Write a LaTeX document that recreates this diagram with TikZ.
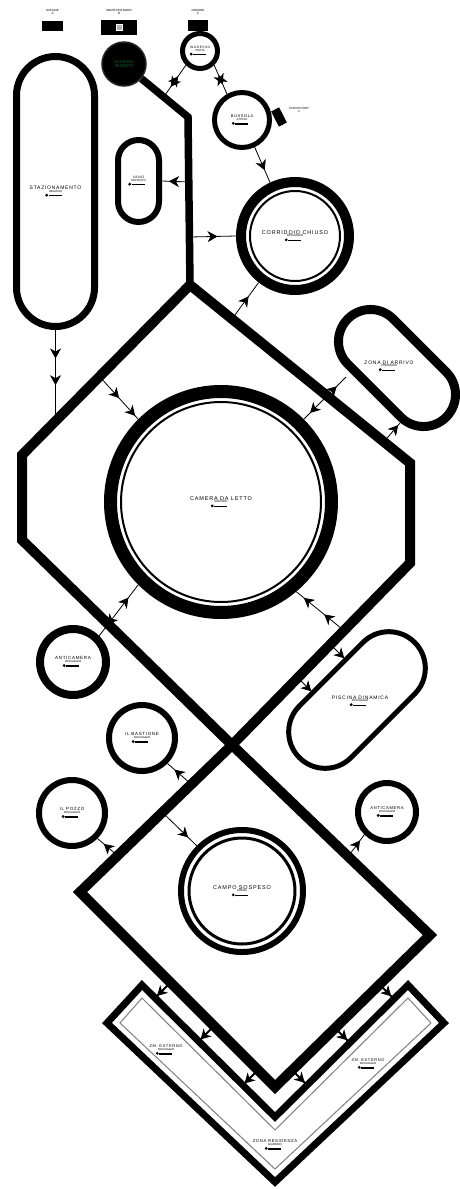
\documentclass[tikz,border=0pt]{standalone}
\usepackage{fontspec}
\setmainfont{Liberation Sans}
\newfontfamily\lbf[LetterSpace=15]{Liberation Sans}
\usetikzlibrary{arrows.meta,decorations.markings}
\definecolor{dkgreen}{RGB}{20,110,50}
\newcommand{\mrk}{\raisebox{0.2pt}{\rotatebox{45}{\rule{2.2pt}{2.2pt}}}\hspace{0.6pt}\rule[0.6pt]{13pt}{1.3pt}\hspace*{4pt}}
\newcommand{\lbl}[3][5.5]{{\lbf\fontsize{#1}{#1}\selectfont #2}\\[-0.3pt]{\fontsize{2.8}{2.8}\selectfont #3}\\[0.4pt]{\fontsize{3.5}{3.5}\selectfont\mrk}}
\tikzset{
  lab/.style={align=center,inner sep=0pt,font=\fontsize{3}{3}\selectfont},
  ring/.style={circle,draw,inner sep=0pt,align=center,font=\fontsize{3}{3}\selectfont},
  pill/.style={rectangle,draw,inner sep=0pt,align=center,font=\fontsize{3}{3}\selectfont},
  blk/.style={fill=black,inner sep=0pt},
  dia/.style={line width=10pt,line join=miter},
  conn/.style={line width=0.8pt},
  arr/.style={postaction={decorate,decoration={markings,mark=at position #1 with {\arrow{Stealth[length=10pt,width=11pt,inset=3pt]}}}}},
  rarr/.style={postaction={decorate,decoration={markings,mark=at position #1 with {\arrowreversed{Stealth[length=10pt,width=11pt,inset=3pt]}}}}},
  thinring/.style={line width=2pt},
}
\begin{document}
\begin{tikzpicture}[x=1pt,y=-1pt]
\useasboundingbox (0,0) rectangle (460,1189);
\fill[white] (0,0) rectangle (460,1189);

% ---- top markers
\node[lab] (o1l) at (52.5,12) {ORIGINE\\A};
\node[blk,minimum width=21,minimum height=10] (o1) at (52.5,25.5) {};
\node[lab] (o2l) at (119,12) {INGRESSO NORD\\B};
\node[blk,minimum width=36,minimum height=15] (o2) at (119,27.5) {};
\node[fill=gray!60,draw=white,line width=0.8pt,minimum size=6,inner sep=0pt] (o2i) at (119,27.5) {};
\node[lab] (o3l) at (198,12) {ORIGINE\\C};
\node[blk,minimum width=20,minimum height=11] (o3) at (198,25.5) {};

% ---- dark circle and spine
\node[circle,fill=black,draw=black!85,line width=1.5pt,minimum size=44,inner sep=0pt,text=dkgreen,font=\fontsize{4}{4.5}\selectfont,align=center] (dk) at (124,64) {ACCESSO\\SEGRETO};
\coordinate (t1) at (188,117);
\coordinate (d1t) at (190,285);
\draw[line width=7.5pt,line join=miter] (dk.-40) -- (t1) -- (d1t);

% ---- diamonds
\coordinate (d1r1) at (410,463);
\coordinate (d1r2) at (410,563);
\coordinate (x0) at (232,745);
\coordinate (d1l2) at (22,540);
\coordinate (d1l1) at (22,455);
\draw[dia] (d1t) -- (d1r1) -- (d1r2) -- (x0) -- (d1l2) -- (d1l1) -- cycle;
\coordinate (d2r) at (430,935);
\coordinate (d2b) at (275,1087);
\coordinate (d2l) at (80,892);
\draw[dia] (x0) -- (d2r) -- (d2b) -- (d2l) -- cycle;

% ---- top circles
\node[ring,line width=5pt,minimum size=35] (top) at (200,51) {\lbl[3.2]{INGRESSO}{PORTA}};
\node[ring,line width=5pt,minimum size=55] (bus) at (242,120) {\lbl[4]{BUSSOLA}{ATTESA}};
\node[blk,minimum width=9,minimum height=17,rotate=27] (bx) at (279,117) {};
\node[lab,anchor=west] (bxl) at (289,110) {CHECKPOINT\\2};

% ---- pills left
\node[pill,line width=7pt,minimum width=78,minimum height=270,rounded corners=39pt] (lp) at (55.5,191.5) {\lbl[5]{STAZIONAMENTO}{NEGOZIO}};
\node[pill,line width=6pt,minimum width=41,minimum height=82,rounded corners=20.5pt] (sp) at (138.5,181) {\lbl[3.5]{VANO}{DEPOSITO}};

% ---- corridor circle
\node[ring,line width=10pt,minimum size=108] (cam) at (295,236) {\lbl{CORRIDOIO CHIUSO}{PASSAGGIO}};
\draw[thinring] (cam.center) circle[radius=45];

% ---- main circle
\node[ring,line width=13pt,minimum size=221] (main) at (221,502) {\lbl{CAMERA DA LETTO}{SERVIZIO}};
\draw[thinring] (main.center) circle[radius=100];

% ---- zona pill
\node[pill,line width=9pt,minimum width=139,minimum height=64,rounded corners=32pt,rotate=-45] (zp) at (397,368) {};
\node[lab] (zpl) at (389,366) {\lbl[5]{ZONA DI ARRIVO}{CORRIDOIO}};

% ---- piscina pill
\node[pill,line width=5pt,minimum width=163,minimum height=73,rounded corners=36.5pt,rotate=45] (pi) at (357,700) {};
\node[lab] (pil) at (360,701) {\lbl[5]{PISCINA DINAMICA}{PASSAGGIO}};

% ---- small circles
\node[ring,line width=8pt,minimum size=66] (acl) at (73,662) {\lbl[4.5]{ANTICAMERA}{PASSAGGIO}};
\node[ring,line width=6pt,minimum size=66] (bst) at (142,738) {\lbl[4.5]{IL BASTIONE}{PASSAGGIO}};
\node[ring,line width=6pt,minimum size=66] (ilg) at (72,813) {\lbl[4.5]{IL POZZO}{PASSAGGIO}};
\node[ring,line width=6pt,minimum size=58] (acr) at (387,812) {\lbl[4.2]{ANTICAMERA}{PASSAGGIO}};

% ---- campo
\node[ring,line width=6pt,minimum size=122] (campo) at (242,891) {\lbl{CAMPO SOSPESO}{ARENA}};
\draw[line width=3pt] (campo.center) circle[radius=53];

% ---- chevron
\coordinate (cA) at (142,985);
\coordinate (cB) at (107,1023);
\coordinate (cC) at (275,1182);
\coordinate (cD) at (444,1023);
\coordinate (cE) at (408,985);
\coordinate (cF) at (275,1117);
\draw[line width=7pt,line join=miter] (cA) -- (cB) -- (cC) -- (cD) -- (cE) -- (cF) -- cycle;
\draw[gray,line width=1pt] (142,998) -- (120,1023) -- (275,1169) -- (431,1023) -- (408,998) -- (275,1130) -- cycle;
\node[lab] (chl) at (166,1050) {\lbl[4]{ZM. ESTERNO}{PASSAGGIO}};
\node[lab] (chr) at (368,1064) {\lbl[4]{ZM. ESTERNO}{PASSAGGIO}};
\node[lab] (chb) at (275,1145) {\lbl[4.2]{ZONA RESIDENZA}{GIARDINO}};

% ---- connectors
\coordinate (e1) at (55.5,419);
\draw[conn,arr=0.32,arr=0.62] (lp.south) -- (e1);
\coordinate (v1) at (190,182);
\draw[conn,arr=0.75] (v1) -- (sp.east);
\coordinate (v2) at (190,237);
\draw[conn,arr=0.6] (v2) -- (cam.west);
\draw[conn,arr=0.65] (bus.-65) -- (cam.115);
\coordinate (s1) at (163,98);
\draw[conn,arr=0.66,rarr=0.34] (top.225) -- (s1);
\draw[conn,arr=0.66,rarr=0.34] (top.-45) -- (bus.120);
\coordinate (e2) at (232,319);
\draw[conn,arr=0.62] (e2) -- (cam.232);
\coordinate (e3) at (100,377);
\draw[conn,arr=0.5,arr=0.92] (e3) -- (main.135);
\coordinate (z1) at (346,377);
\draw[conn,rarr=0.22,arr=0.85] (z1) -- (main.45);
\coordinate (e4) at (382,444);
\coordinate (z2) at (400,423);
\draw[conn,arr=0.9] (e4) -- (z2);
\draw[conn,rarr=0.22,arr=0.75] (acl.45) -- (main.225);
\coordinate (e5) at (347,633);
\draw[conn,arr=0.45,arr=0.85] (e5) -- (main.-50);
\coordinate (e6) at (331,645);
\coordinate (p1) at (345,659);
\draw[conn,arr=0.95] (e6) -- (p1);
\coordinate (e7) at (298,678);
\coordinate (p2) at (312,692);
\draw[conn,arr=0.95] (e7) -- (p2);
\coordinate (e8) at (191,784);
\draw[conn,arr=0.7] (e8) -- (bst.-45);
\coordinate (e9) at (118.5,856.5);
\draw[conn,arr=0.7] (e9) -- (ilg.-45);
\coordinate (e10) at (162.5,812.5);
\draw[conn,arr=0.75] (e10) -- (campo.135);
\coordinate (e11) at (347,858);
\draw[conn,arr=0.75] (e11) -- (acr.225);
% chevron links
\coordinate (k1a) at (170.5,982.5); \coordinate (k1b) at (155.5,997.5);
\coordinate (k2a) at (214,1026);   \coordinate (k2b) at (199,1041);
\coordinate (k3a) at (258,1070);   \coordinate (k3b) at (243,1085);
\coordinate (k4a) at (293.5,1071.5); \coordinate (k4b) at (306,1084);
\coordinate (k5a) at (336,1029);   \coordinate (k5b) at (348.5,1041.5);
\coordinate (k6a) at (380,985);    \coordinate (k6b) at (392.5,997.5);
\foreach \i in {1,...,6} {\draw[line width=2pt,arr=0.9] (k\i a) -- (k\i b);}
\end{tikzpicture}
\end{document}
